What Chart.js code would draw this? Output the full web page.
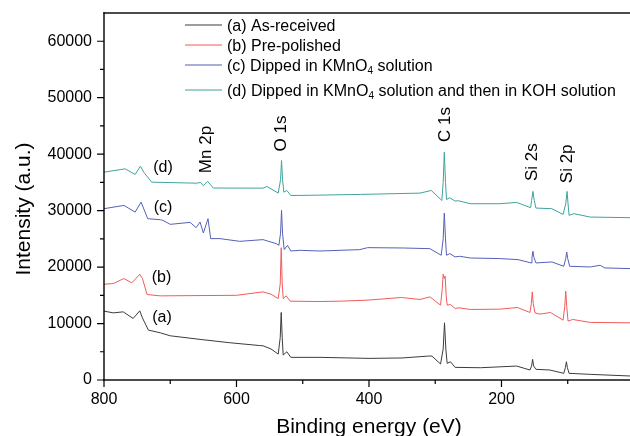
<!DOCTYPE html>
<html>
<head>
<meta charset="utf-8">
<script src="https://cdn.jsdelivr.net/npm/chart.js@4.4.1/dist/chart.umd.min.js"></script>
<style>
  body { margin: 0; background: #fff; }
  #xps-chart { display: block; }
</style>
</head>
<body>
<canvas id="xps-chart" width="630" height="436"></canvas>
<script>
"use strict";
const FONT = "'Liberation Sans', Arial, sans-serif";

const seriesNames = [
  "(a) As-received",
  "(b) Pre-polished",
  "(c) Dipped in KMnO4 solution",
  "(d) Dipped in KMnO4 solution and then in KOH solution",
];
const seriesColors = ["#3c3c3c", "#f25a5a", "#5560b8", "#3fa39d"];

// (a) as-received
const energyA = [800, 786, 771, 756, 746, 742, 733, 715, 700, 655, 610, 565, 560, 548, 537, 534, 532.5, 531, 529.5, 524, 518, 474, 400, 350, 310, 305, 292, 288, 286, 284, 282, 277, 270, 232, 177, 157, 154.5, 153, 151.5, 148, 127, 106, 103.5, 102, 100.5, 98, 66, 6];
const intensityA = [12200, 11890, 12070, 10900, 12250, 11000, 8840, 8360, 7830, 7190, 6600, 6100, 6060, 5500, 4590, 7500, 11960, 7500, 4420, 5000, 4010, 4010, 3830, 3900, 4240, 4240, 2830, 5500, 10130, 5500, 2950, 3230, 2240, 2170, 2470, 1770, 2500, 3660, 2500, 1890, 1770, 1180, 2200, 3230, 2200, 1180, 1000, 710];

// (b) pre-polished
const energyB = [800, 786, 770, 758, 746, 742, 735, 715, 600, 560, 548, 537, 534, 532.5, 531, 529.5, 525, 519, 474, 444, 403, 351, 323, 308, 292, 289.5, 288, 286.5, 285, 283.5, 282, 277, 270, 264, 247, 202, 176, 157, 155, 153.5, 152, 149.5, 142, 126, 107, 104.5, 103, 101.5, 99.5, 92.5, 66, 6];
const intensityB = [16960, 17080, 17970, 17200, 18730, 18000, 15140, 14900, 15000, 15610, 15200, 14430, 17000, 23440, 17000, 14430, 14900, 13960, 13900, 13960, 14140, 14610, 14260, 14730, 13250, 16000, 18730, 17970, 18380, 15000, 13250, 13370, 12670, 12780, 12490, 12550, 12840, 11960, 13500, 15610, 13500, 11900, 11660, 11960, 10600, 13000, 15730, 13000, 10430, 10720, 10200, 10130];

// (c) dipped in KMnO4
const energyC = [800, 770, 753, 744, 734, 715, 711, 700, 670, 661, 655, 650, 643, 639, 625, 595, 560, 540, 536, 533.5, 532, 530.5, 528, 523, 518, 504, 474, 414, 402, 348, 308, 291, 288, 286.3, 284.5, 283, 278, 270, 263, 247, 202, 175, 155, 154, 152.5, 151, 148, 124, 106, 103, 101.5, 100, 97, 66, 51, 44, 6];
const intensityC = [30340, 30920, 29740, 31510, 28570, 28390, 28270, 27570, 27920, 26980, 27980, 26030, 28570, 25040, 25040, 24560, 24860, 24150, 23850, 26000, 30040, 26000, 23090, 23850, 22850, 22970, 22850, 23090, 23440, 23380, 23260, 22090, 25000, 29570, 25000, 22090, 22390, 21800, 21910, 21610, 21500, 21320, 20730, 21700, 22800, 21700, 20730, 20910, 20140, 21500, 22670, 21500, 20140, 20020, 20320, 19850, 19730];

// (d) dipped in KMnO4, then KOH
const energyD = [800, 768, 753, 745, 740, 728, 660, 654, 650, 643.5, 635, 560, 554, 537, 533.5, 532, 530.5, 528.5, 524, 518, 504, 413, 323, 306, 290, 288, 286.3, 284.5, 283, 278, 270, 265, 247, 202, 177, 156, 154.5, 152.5, 150.5, 148, 124, 107, 103, 101, 99.5, 98, 90.5, 66, 6];
const intensityD = [36810, 37400, 36400, 37870, 36800, 35040, 34860, 35000, 34400, 35160, 34000, 33980, 34280, 33100, 35500, 38870, 35500, 33270, 33570, 32690, 32690, 32870, 33100, 33570, 31800, 35000, 40340, 35000, 31980, 32280, 31690, 31750, 31220, 31220, 31450, 30520, 31800, 33400, 31800, 30450, 30340, 29330, 31200, 33400, 31200, 29160, 29450, 28860, 28750];

const xTicks = [800, 700, 600, 500, 400, 300, 200, 100];

// text annotations, placed in data units
const curveTags = ["(a)", "(b)", "(c)", "(d)"];
const tagEnergy = [712.5, 713.2, 710.9, 710.9];
const tagIntensity = [11100, 18200, 30550, 37600];
const peakNames = ["Mn 2p", "O 1s", "C 1s", "Si 2s", "Si 2p"];
const peakEnergy = [646, 533, 284.5, 154, 100.4];
const peakIntensity = [40820, 43650, 45240, 38570, 38290];

const toPoints = (xs, ys) => xs.map((x, i) => ({ x: x, y: ys[i] }));
const allEnergy = [energyA, energyB, energyC, energyD];
const allIntensity = [intensityA, intensityB, intensityC, intensityD];

const datasets = seriesNames.map((name, i) => ({
  label: name,
  data: toPoints(allEnergy[i], allIntensity[i]),
  borderColor: seriesColors[i],
  backgroundColor: seriesColors[i],
  borderWidth: 1,
  pointRadius: 0,
  tension: 0,
}));

const decorations = {
  id: "decorations",
  afterDraw(chart) {
    const ctx = chart.ctx;
    const area = chart.chartArea;
    const x = chart.scales.x;
    const y = chart.scales.y;
    ctx.save();

    // frame (top, left, bottom)
    ctx.fillStyle = "#000";
    ctx.fillRect(area.left - 0.7, area.top - 0.7, area.right - area.left + 0.7, 1.4);
    ctx.fillRect(area.left - 0.7, area.top - 0.7, 1.4, area.bottom - area.top + 1.4);
    ctx.fillRect(area.left - 0.7, area.bottom - 0.7, area.right - area.left + 0.7, 1.4);

    // ticks
    ctx.strokeStyle = "#000";
    ctx.lineWidth = 1.2;
    ctx.beginPath();
    x.ticks.forEach((t) => {
      const px = x.getPixelForValue(t.value);
      ctx.moveTo(px, area.bottom);
      ctx.lineTo(px, area.bottom + (t.value % 200 === 0 ? 7 : 4));
    });
    y.ticks.forEach((t) => {
      if (t.value >= 65000) return;
      const py = y.getPixelForValue(t.value);
      ctx.moveTo(area.left, py);
      ctx.lineTo(area.left - (t.value % 10000 === 0 ? 7 : 4), py);
    });
    ctx.stroke();

    // axis titles
    ctx.font = "21px " + FONT;
    ctx.textAlign = "center";
    ctx.textBaseline = "alphabetic";
    ctx.fillText("Binding energy (eV)", 369, 433);
    ctx.save();
    ctx.translate(29.5, 209);
    ctx.rotate(-Math.PI / 2);
    ctx.fillText("Intensity (a.u.)", 0, 0);
    ctx.restore();

    // curve tags
    ctx.font = "16px " + FONT;
    ctx.textBaseline = "middle";
    curveTags.forEach((tag, i) => {
      ctx.fillText(tag, x.getPixelForValue(tagEnergy[i]), y.getPixelForValue(tagIntensity[i]));
    });

    // peak names, rotated
    ctx.font = "17px " + FONT;
    peakNames.forEach((name, i) => {
      ctx.save();
      ctx.translate(x.getPixelForValue(peakEnergy[i]), y.getPixelForValue(peakIntensity[i]));
      ctx.rotate(-Math.PI / 2);
      ctx.fillText(name, 0, 0);
      ctx.restore();
    });

    // legend
    const rowY = [25, 45, 65, 90];
    ctx.textAlign = "left";
    ctx.textBaseline = "alphabetic";
    chart.data.datasets.forEach((ds, i) => {
      ctx.strokeStyle = ds.borderColor;
      ctx.lineWidth = 1.2;
      ctx.beginPath();
      ctx.moveTo(185, rowY[i]);
      ctx.lineTo(222, rowY[i]);
      ctx.stroke();
      const parts = ds.label.split("KMnO4");
      let tx = 227;
      const base = rowY[i] + 5.7;
      parts.forEach((p, j) => {
        ctx.font = "16px " + FONT;
        const txt = j < parts.length - 1 ? p + "KMnO" : p;
        ctx.fillText(txt, tx, base);
        tx += ctx.measureText(txt).width;
        if (j < parts.length - 1) {
          ctx.font = "10px " + FONT;
          ctx.fillText("4", tx, base + 3);
          tx += ctx.measureText("4").width;
        }
      });
    });
    ctx.restore();
  },
};

const xpsChart = new Chart(document.querySelector("#xps-chart"), {
  type: "line",
  data: { datasets: datasets },
  options: {
    responsive: false,
    animation: false,
    layout: { padding: { top: 13, left: 0, right: 0, bottom: 0 } },
    plugins: { legend: { display: false }, tooltip: { enabled: false } },
    scales: {
      x: {
        type: "linear",
        reverse: true,
        min: 6,
        max: 800,
        afterBuildTicks: (scale) => {
          scale.ticks = xTicks.map((v) => ({ value: v }));
        },
        afterFit: (scale) => {
          scale.height = 56;
          scale.paddingLeft = 0;
          scale.paddingRight = 0;
        },
        grid: { display: false, drawTicks: false },
        border: { display: false },
        ticks: {
          padding: 10,
          color: "#000",
          font: { family: FONT, size: 16 },
          maxRotation: 0,
          autoSkip: false,
          callback: (v) => (v % 200 === 0 ? String(v) : ""),
        },
      },
      y: {
        min: 0,
        max: 65000,
        afterFit: (scale) => {
          scale.width = 104;
          scale.paddingTop = 0;
          scale.paddingBottom = 0;
        },
        grid: { display: false, drawTicks: false },
        border: { display: false },
        ticks: {
          stepSize: 5000,
          padding: 12,
          color: "#000",
          font: { family: FONT, size: 16 },
          autoSkip: false,
          callback: (v) => (v % 10000 === 0 && v < 65000 ? String(v) : ""),
        },
      },
    },
  },
  plugins: [decorations],
});
</script>
</body>
</html>
